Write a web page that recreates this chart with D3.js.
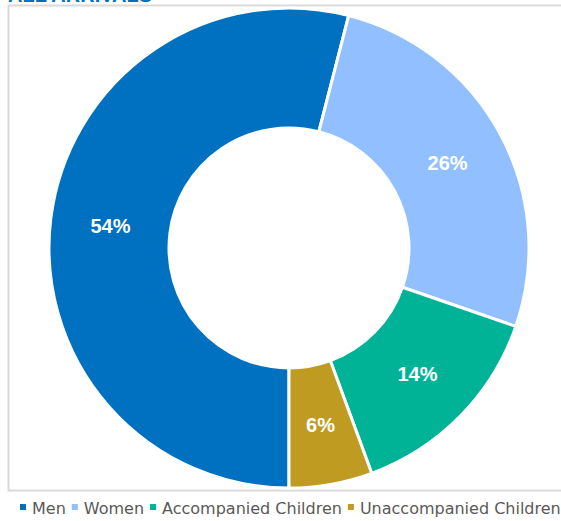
<!DOCTYPE html>
<html>
<head>
<meta charset="utf-8">
<script src="https://cdn.jsdelivr.net/npm/d3@7"></script>
<style>
  body { margin: 0; background: #fff; }
  svg { display: block; }
</style>
</head>
<body>
<div id="chart"></div>
<script>
// Chart data (shares, labels are rounded)
const categories = ["Men", "Women", "Accompanied Children", "Unaccompanied Children"];
const shares     = [54.0, 26.3, 14.1, 5.6];
const colors     = ["#0070c0", "#91bfff", "#00b396", "#bf9b22"];
const title      = "ALL ARRIVALS";

const width  = 561;
const height = 521;
const cx = 289, cy = 248;
const outerR = 240, innerR = 120;

const svg = d3.select("#chart")
  .append("svg")
    .attr("width", width)
    .attr("height", height);

// Title, mostly cut off at the top edge
svg.append("text")
  .attr("x", 8)
  .attr("y", 1.5)
  .style("font-family", "Liberation Sans, Arial, sans-serif")
  .style("font-weight", "bold")
  .style("font-size", "20px")
  .attr("fill", "#0070c0")
  .text(title);

// Plot area border
svg.append("rect")
  .attr("x", 8.5)
  .attr("y", 5.5)
  .attr("width", 560)
  .attr("height", 485)
  .attr("fill", "none")
  .attr("stroke", "#d9d9d9")
  .attr("stroke-width", 2);

// Donut
const pie = d3.pie()
  .sort(null)
  .startAngle(Math.PI)
  .endAngle(3 * Math.PI)
  .value(d => d);

const arc = d3.arc()
  .innerRadius(innerR)
  .outerRadius(outerR);

const g = svg.append("g")
  .attr("transform", `translate(${cx},${cy})`);

const arcs = pie(shares);

g.selectAll("path")
  .data(arcs)
  .join("path")
    .attr("d", arc)
    .attr("fill", (d, i) => colors[i])
    .attr("stroke", "#fff")
    .attr("stroke-width", 3);

g.selectAll("text.lbl")
  .data(arcs)
  .join("text")
    .attr("class", "lbl")
    .attr("transform", d => `translate(${arc.centroid(d)})`)
    .attr("text-anchor", "middle")
    .attr("dy", "0.36em")
    .style("font-family", "Liberation Sans, Arial, sans-serif")
    .style("font-weight", "bold")
    .style("font-size", "20px")
    .attr("fill", "#fff")
    .text(d => Math.round(d.data) + "%");

// Legend
const legend = svg.append("g")
  .attr("transform", "translate(20, 508)");

let lx = 0;
categories.forEach((name, i) => {
  legend.append("rect")
    .attr("x", lx)
    .attr("y", -4)
    .attr("width", 6)
    .attr("height", 6)
    .attr("fill", colors[i]);
  const t = legend.append("text")
    .attr("x", lx + 12)
    .attr("y", 0)
    .attr("dy", "0.35em")
    .style("font-family", "DejaVu Sans, sans-serif")
    .style("font-size", "16px")
    .attr("fill", "#595959")
    .text(name);
  lx += 12 + t.node().getComputedTextLength() + 6;
});
</script>
</body>
</html>
